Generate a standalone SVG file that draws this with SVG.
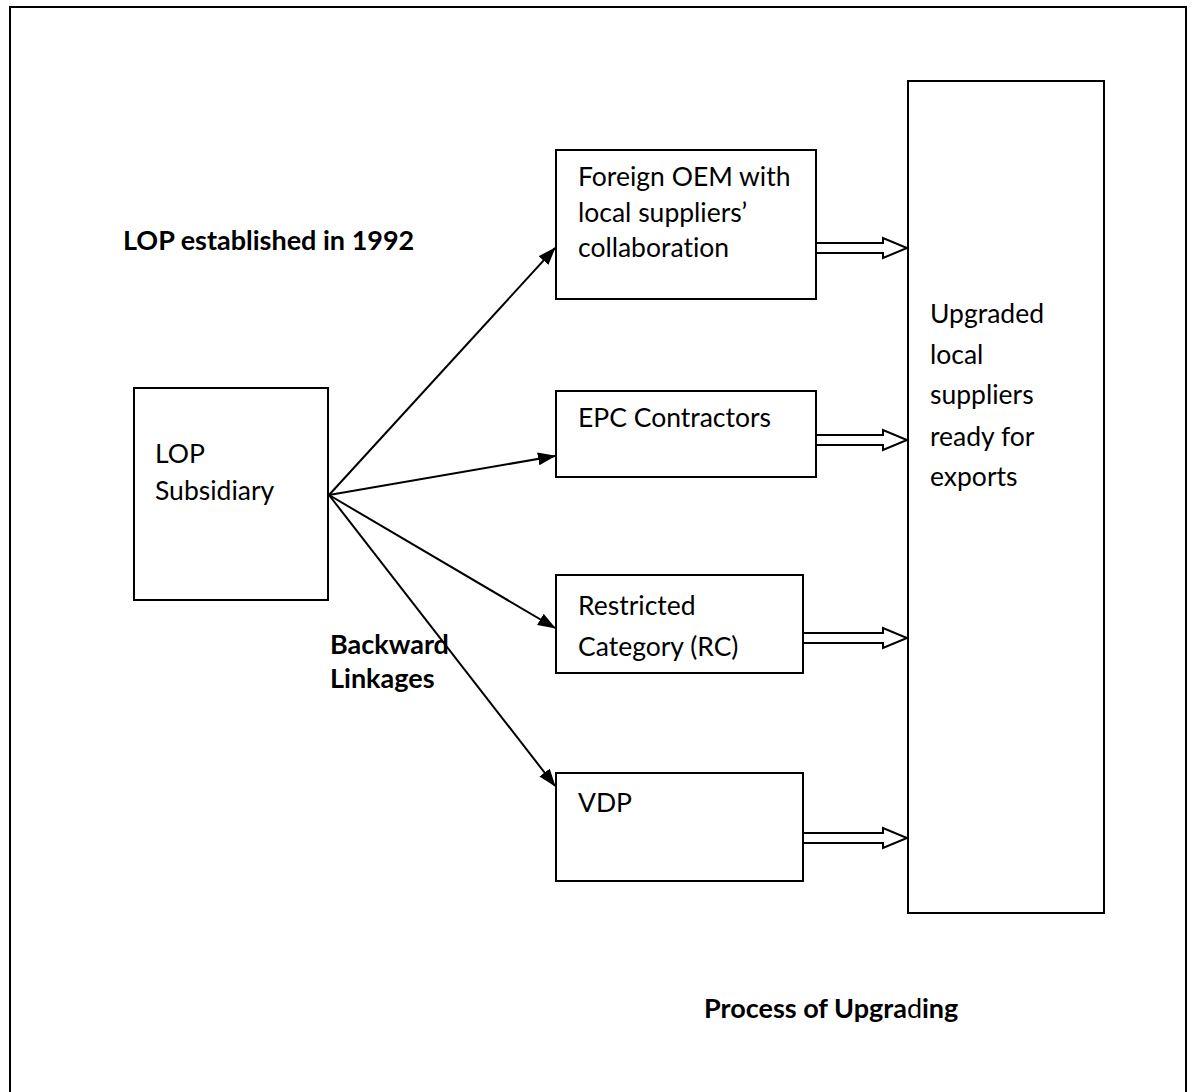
<svg xmlns="http://www.w3.org/2000/svg" width="1192" height="1092" viewBox="0 0 1192 1092">
  <defs>
    <marker id="head" markerWidth="18" markerHeight="13" refX="17" refY="6.5" orient="auto" markerUnits="userSpaceOnUse">
      <path d="M0,0 L18,6.5 L0,13 Z" fill="#000"/>
    </marker>
    <style>
      .box { fill: #fff; stroke: #000; stroke-width: 2; }
      .frame { fill: none; stroke: #000; stroke-width: 2; }
      .txt { font-family: Lato, "Liberation Sans", sans-serif; font-size: 26.5px; fill: #000; font-variant-ligatures: none; }
      .bold { font-weight: bold; font-size: 27px; }
      .link { stroke: #000; stroke-width: 2; fill: none; marker-end: url(#head); }
      .flow { fill: #fff; stroke: #000; stroke-width: 2; stroke-linejoin: miter; }
    </style>
  </defs>

  <rect width="1192" height="1092" fill="#fff"/>
  <!-- page frame, open at the bottom -->
  <path class="frame" d="M10,1100 L10,7 L1186,7 L1186,1100"/>

  <text class="txt bold" x="123" y="250">LOP established in 1992</text>
  <text class="txt bold" x="330" y="654">Backward</text>
  <text class="txt bold" x="330" y="688">Linkages</text>
  <text class="txt bold" x="704" y="1018">Process of Upgra<tspan font-weight="normal">d</tspan>ing</text>

  <g id="lop-subsidiary">
    <rect class="box" x="134" y="388" width="194" height="212"/>
    <text class="txt" x="155" y="463">LOP</text>
    <text class="txt" x="155" y="500">Subsidiary</text>
  </g>

  <g id="foreign-oem">
    <rect class="box" x="556" y="150" width="260" height="149"/>
    <text class="txt" x="578" y="186">Foreign OEM with</text>
    <text class="txt" x="578" y="222">local suppliers’</text>
    <text class="txt" x="578" y="257">collaboration</text>
  </g>

  <g id="epc-contractors">
    <rect class="box" x="556" y="391" width="260" height="86"/>
    <text class="txt" x="578" y="427">EPC Contractors</text>
  </g>

  <g id="restricted-category">
    <rect class="box" x="556" y="575" width="247" height="98"/>
    <text class="txt" x="578" y="615">Restricted</text>
    <text class="txt" x="578" y="656">Category (RC)</text>
  </g>

  <g id="vdp">
    <rect class="box" x="556" y="773" width="247" height="108"/>
    <text class="txt" x="578" y="812">VDP</text>
  </g>

  <g id="upgraded-suppliers">
    <rect class="box" x="908" y="81" width="196" height="832"/>
    <text class="txt" x="930" y="323">Upgraded</text>
    <text class="txt" x="930" y="364">local</text>
    <text class="txt" x="930" y="404">suppliers</text>
    <text class="txt" x="930" y="446">ready for</text>
    <text class="txt" x="930" y="486">exports</text>
  </g>

  <g id="connectors">
    <!-- backward linkages from the subsidiary -->
    <line class="link" x1="329" y1="495" x2="555" y2="248"/>
    <line class="link" x1="329" y1="495" x2="555" y2="456"/>
    <line class="link" x1="329" y1="495" x2="555" y2="628"/>
    <line class="link" x1="329" y1="495" x2="555" y2="786"/>
    <!-- hollow block arrows into the upgraded suppliers -->
    <path class="flow" d="M816,243 L883,243 L883,238 L907,248 L883,258 L883,253 L816,253 Z"/>
    <path class="flow" d="M816,435 L883,435 L883,430 L907,440 L883,450 L883,445 L816,445 Z"/>
    <path class="flow" d="M803,633 L883,633 L883,628 L907,638 L883,648 L883,643 L803,643 Z"/>
    <path class="flow" d="M803,833 L883,833 L883,828 L907,838 L883,848 L883,843 L803,843 Z"/>
  </g>
</svg>
